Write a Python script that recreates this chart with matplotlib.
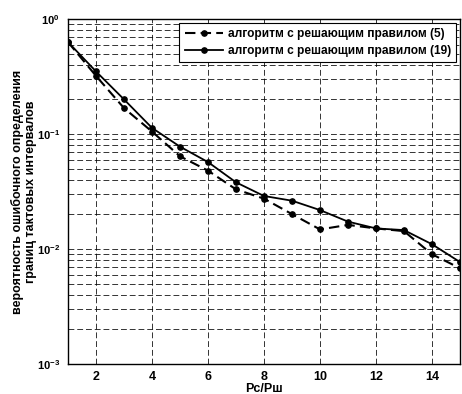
import matplotlib.pyplot as plt
from matplotlib.ticker import FixedLocator, LogLocator, FuncFormatter, NullFormatter
import numpy as np

plt.rcParams['font.family'] = ['Liberation Sans', 'DejaVu Sans']
plt.rcParams['font.weight'] = 'bold'
plt.rcParams['mathtext.fontset'] = 'custom'
plt.rcParams['mathtext.bf'] = 'Liberation Sans:bold'
plt.rcParams['mathtext.rm'] = 'Liberation Sans:bold'

snr = [1, 2, 3, 4, 5, 6, 7, 8, 9, 10, 11, 12, 13, 14, 15]
err_rule5 = [0.63, 0.32, 0.168, 0.105, 0.064, 0.048, 0.033, 0.0274, 0.0201,
             0.0148, 0.0162, 0.0151, 0.0143, 0.009, 0.0068]
err_rule19 = [0.63, 0.35, 0.20, 0.113, 0.0776, 0.057, 0.038, 0.0289, 0.0263,
              0.0218, 0.0173, 0.0151, 0.0146, 0.011, 0.0077]
labels = ['алгоритм с решающим правилом (5)', 'алгоритм с решающим правилом (19)']
xticks = [2, 4, 6, 8, 10, 12, 14]

fig = plt.figure(figsize=(4.62, 3.94), dpi=100)
ax = fig.add_axes([68 / 462, 1 - 364 / 394, 392 / 462, 345 / 394])

ax.plot(snr, err_rule5, color='black', lw=1.5, linestyle=(0, (5, 2.5)),
        marker='o', markersize=3.8, label=labels[0])
ax.plot(snr, err_rule19, color='black', lw=1.3, linestyle='-',
        marker='o', markersize=3.8, label=labels[1])

ax.set_yscale('log')
ax.set_xlim(1, 15)
ax.set_ylim(1e-3, 1)
ax.xaxis.set_major_locator(FixedLocator(xticks))
ax.yaxis.set_major_locator(LogLocator(base=10))
ax.yaxis.set_minor_locator(LogLocator(base=10, subs=np.arange(2, 10)))
ax.yaxis.set_minor_formatter(NullFormatter())
ax.yaxis.set_major_formatter(FuncFormatter(
    lambda v, p: r'$\mathbf{10^{\mathrm{%d}}}$' % int(round(np.log10(v)))))

grid_kw = dict(color='black', linestyle=(0, (6, 3)), linewidth=0.7, alpha=0.8)
ax.grid(True, which='major', axis='both', **grid_kw)
ax.grid(True, which='minor', axis='y', **grid_kw)

ax.tick_params(which='both', direction='in', length=0, pad=5)
ax.tick_params(axis='x', labelsize=9)
ax.tick_params(axis='y', labelsize=8, pad=6)
for s in ax.spines.values():
    s.set_linewidth(1.0)

ax.set_xlabel('Pc/Pш', fontsize=9, fontweight='bold', labelpad=0)
ax.set_ylabel('вероятность ошибочного определения\nграниц тактовых интервалов',
              fontsize=9, fontweight='bold', linespacing=1.1)
ax.yaxis.set_label_coords(-0.08, 0.5)

leg = ax.legend(loc='upper right', fontsize=8.6, frameon=True, fancybox=False,
                edgecolor='black', framealpha=1, borderaxespad=0.3,
                handlelength=3.2, handletextpad=0.4, borderpad=0.45,
                labelspacing=0.4)
leg.get_frame().set_linewidth(0.8)
for t in leg.get_texts():
    t.set_fontweight('bold')

fig.savefig('out.png', dpi=100)
